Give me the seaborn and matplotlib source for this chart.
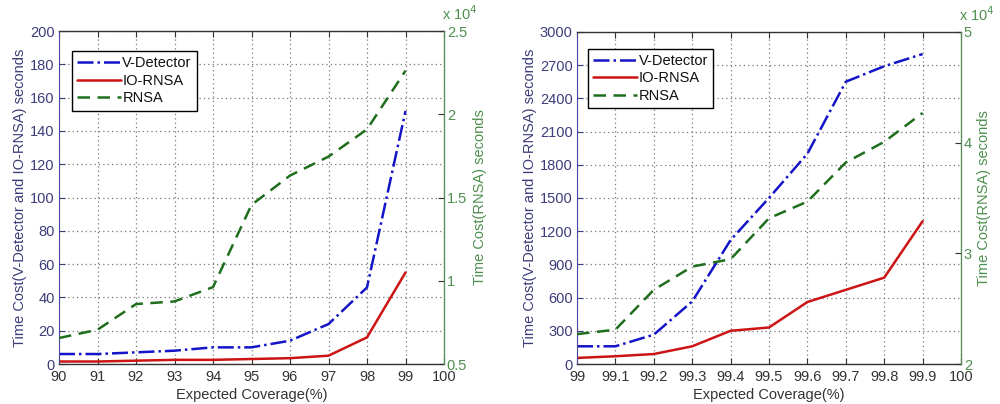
import numpy as np
import pandas as pd
import matplotlib
matplotlib.use("Agg")
import matplotlib.pyplot as plt
from matplotlib.ticker import FuncFormatter, FixedLocator
import seaborn as sns

# ---- data: left panel (coverage 90-99 %) ----
coverage_a = [90, 91, 92, 93, 94, 95, 96, 97, 98, 99]
vdetector_a = [6, 6, 7, 8, 10, 10, 14, 24, 46, 152]
iornsa_a = [1.5, 1.5, 2, 2.5, 2.5, 3, 3.5, 5, 16, 55]
rnsa_a = [6560, 7060, 8600, 8760, 9620, 14560, 16320, 17460, 19100, 22620]

# ---- data: right panel (coverage 99-99.9 %) ----
coverage_b = [99.0, 99.1, 99.2, 99.3, 99.4, 99.5, 99.6, 99.7, 99.8, 99.9]
vdetector_b = [160, 160, 265, 565, 1120, 1500, 1900, 2550, 2690, 2800]
iornsa_b = [55, 70, 90, 160, 300, 330, 560, 670, 780, 1290]
rnsa_b = [22700, 23100, 26700, 28800, 29470, 33170, 34670, 38210, 40070, 42680]

# ---- axis ticks ----
xticks_a = [90, 91, 92, 93, 94, 95, 96, 97, 98, 99, 100]
yticks_a = [0, 20, 40, 60, 80, 100, 120, 140, 160, 180, 200]
y2ticks_a = [5000, 10000, 15000, 20000, 25000]
xticks_b = [99.0, 99.1, 99.2, 99.3, 99.4, 99.5, 99.6, 99.7, 99.8, 99.9, 100.0]
yticks_b = [0, 300, 600, 900, 1200, 1500, 1800, 2100, 2400, 2700, 3000]
y2ticks_b = [20000, 30000, 40000, 50000]

labels = ["V-Detector", "IO-RNSA", "RNSA"]
xlabel = "Expected Coverage(%)"
ylabel_left = "Time Cost(V-Detector and IO-RNSA) seconds"
ylabel_right = "Time Cost(RNSA) seconds"

sns.set_style("white")
plt.rcParams["font.family"] = ["Liberation Sans", "DejaVu Sans"]
plt.rcParams["font.size"] = 10.5

C_BLUE = "#1414c8"
C_RED = "#cc1414"
C_GREEN = "#1e6e1e"
C_LAX = "#3c3c7a"
C_RAX = "#4f8f4f"
C_GRID = "#777777"
C_DARK = "#333333"

fig = plt.figure(figsize=(10, 4.04), dpi=100)


def panel(rect, cov, vd, io, rn, xt, yt, y2t, ylim2, legend_anchor):
    ax = fig.add_axes(rect)
    sns.lineplot(x=cov, y=vd, ax=ax, color=C_BLUE, lw=1.8, linestyle="-.",
                 label=labels[0], legend=False)
    sns.lineplot(x=cov, y=io, ax=ax, color=C_RED, lw=1.8, linestyle="-",
                 label=labels[1], legend=False)
    ax.set_xlim(xt[0], xt[-1])
    ax.set_ylim(yt[0], yt[-1])
    ax.xaxis.set_major_locator(FixedLocator(xt))
    ax.yaxis.set_major_locator(FixedLocator(yt))
    ax.xaxis.set_major_formatter(FuncFormatter(lambda v, p: f"{v:g}"))
    ax.yaxis.set_major_formatter(FuncFormatter(lambda v, p: f"{v:g}"))
    ax.grid(True, linestyle=(0, (1, 2.5)), color=C_GRID, lw=0.9)
    ax.tick_params(axis="x", direction="in", length=4, top=True, bottom=True,
                   colors=C_DARK, labelsize=10.5, pad=4)
    ax.tick_params(axis="y", direction="in", length=4, left=True, right=False,
                   colors=C_LAX, labelcolor=C_LAX, labelsize=10.5, pad=3)
    for s in ("top", "bottom"):
        ax.spines[s].set_color(C_DARK)
        ax.spines[s].set_linewidth(1.0)
    ax.spines["left"].set_color("#4848a0")
    ax.set_xlabel(xlabel, color=C_DARK, fontsize=10.5, labelpad=3)
    ax.set_ylabel(ylabel_left, color=C_LAX, fontsize=10.5, labelpad=2)

    ax2 = ax.twinx()
    sns.lineplot(x=cov, y=rn, ax=ax2, color=C_GREEN, lw=1.8,
                 linestyle=(0, (5, 3)), label=labels[2], legend=False)
    ax2.set_ylim(*ylim2)
    ax2.yaxis.set_major_locator(FixedLocator(y2t))
    ax2.yaxis.set_major_formatter(FuncFormatter(lambda v, p: f"{v / 1e4:g}"))
    ax2.tick_params(axis="y", direction="in", length=4, colors=C_DARK,
                    labelcolor=C_RAX, labelsize=10.5, pad=2)
    ax2.spines["right"].set_color(C_RAX)
    ax2.spines["left"].set_visible(False)
    ax2.spines["top"].set_visible(False)
    ax2.spines["bottom"].set_visible(False)
    ax2.set_ylabel(ylabel_right, color=C_RAX, fontsize=10.5, labelpad=4)
    ax2.grid(False)
    # exponent marker for the right-hand scale
    ax2.text(0.995, 1.025, r"x 10$^4$", transform=ax2.transAxes,
             ha="left", va="bottom", color=C_RAX, fontsize=10.5)

    handles = ax.get_lines()[:2] + ax2.get_lines()[:1]
    leg = ax2.legend(handles, labels, loc="upper left",
                     bbox_to_anchor=legend_anchor, frameon=True,
                     fancybox=False, framealpha=1, edgecolor="black",
                     handlelength=3.0, handletextpad=0.1, borderpad=0.35,
                     labelspacing=0.25, borderaxespad=0, fontsize=10.5)
    leg.get_frame().set_linewidth(1.0)
    for t in leg.get_texts():
        t.set_color("#111111")
    return ax, ax2


panel([0.059, 0.099, 0.385, 0.824], coverage_a, vdetector_a, iornsa_a, rnsa_a,
      xticks_a, yticks_a, y2ticks_a, (5000, 25000), (0.034, 0.94))
panel([0.577, 0.099, 0.384, 0.822], coverage_b, vdetector_b, iornsa_b, rnsa_b,
      xticks_b, yticks_b, y2ticks_b, (20000, 50000), (0.029, 0.95))

fig.savefig("out.png", dpi=100, facecolor="white")
